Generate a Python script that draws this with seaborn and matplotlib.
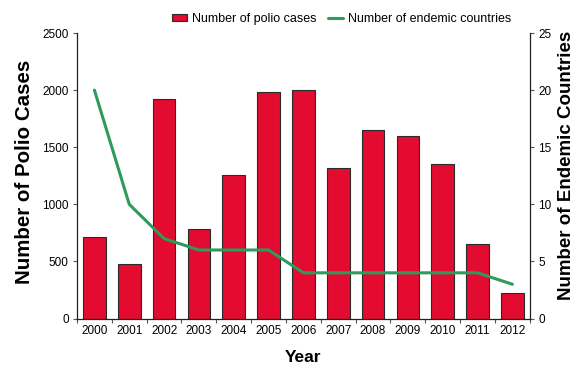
import numpy as np
import pandas as pd
import matplotlib
matplotlib.use("Agg")
import matplotlib.pyplot as plt
from matplotlib.ticker import FixedLocator
import seaborn as sns

years = ["2000", "2001", "2002", "2003", "2004", "2005", "2006",
         "2007", "2008", "2009", "2010", "2011", "2012"]
polio_cases = [715, 480, 1920, 780, 1255, 1980, 2000,
               1315, 1650, 1600, 1350, 650, 220]
endemic_countries = [20, 10, 7, 6, 6, 6, 4, 4, 4, 4, 4, 4, 3]

sns.set_theme(style="white")
plt.rcParams["font.family"] = ["Liberation Sans", "DejaVu Sans"]

bar_color = "#E30B30"
line_color = "#2E9A5C"
text_color = "#000000"

fig = plt.figure(figsize=(5.79, 3.71), dpi=100)
ax = fig.add_axes([0.133, 0.1415, 0.782, 0.7695])

df = pd.DataFrame({"Year": years, "Cases": polio_cases,
                   "Countries": endemic_countries})

sns.barplot(data=df, x="Year", y="Cases", ax=ax, color=bar_color,
            saturation=1, width=0.65, edgecolor="#2a2a2a", linewidth=0.8,
            label="Number of polio cases")
ax.set_xlim(-0.5, len(years) - 0.5)
ax.set_ylim(0, 2500)
ax.set_yticks([0, 500, 1000, 1500, 2000, 2500])

ax2 = ax.twinx()
sns.lineplot(x=np.arange(len(years)), y=df["Countries"], ax=ax2,
             color=line_color, linewidth=2.2,
             label="Number of endemic countries")
ax2.set_ylim(0, 25)
ax2.set_yticks([0, 5, 10, 15, 20, 25])
ax2.set_xlim(-0.5, len(years) - 0.5)

for a in (ax, ax2):
    a.spines["top"].set_visible(False)
    for s in ("left", "right", "bottom"):
        a.spines[s].set_color("#222222")
        a.spines[s].set_linewidth(0.9)

ax.spines["right"].set_visible(False)
ax2.spines["left"].set_visible(False)
ax2.spines["bottom"].set_visible(False)

# category boundaries carry the x tick marks
ax.xaxis.set_minor_locator(FixedLocator(np.arange(-0.5, len(years), 1.0)))
ax.tick_params(axis="x", which="major", length=0, pad=5, labelsize=8.5,
               labelcolor=text_color)
ax.tick_params(axis="x", which="minor", bottom=True, length=3, width=0.8,
               color="#555555")
ax.tick_params(axis="y", left=True, length=3, width=0.8, labelsize=8.5,
               pad=3, color="#555555", labelcolor=text_color)
ax2.tick_params(axis="y", right=True, length=3, width=0.8, labelsize=8.5,
                pad=3, color="#555555", labelcolor=text_color)

ax.set_xlabel("Year", fontsize=12.5, fontweight="bold", labelpad=9,
              color=text_color)
ax.set_ylabel("Number of Polio Cases", fontsize=14.8, fontweight="bold",
              labelpad=6, color=text_color)
ax2.set_ylabel("Number of Endemic Countries", fontsize=13.5,
               fontweight="bold", labelpad=5, color=text_color)
ax.yaxis.label.set_y(0.513)
ax2.yaxis.label.set_y(0.538)

h1, l1 = ax.get_legend_handles_labels()
h2, l2 = ax2.get_legend_handles_labels()
for a in (ax, ax2):
    if a.get_legend() is not None:
        a.get_legend().remove()
fig.legend(h1 + h2, l1 + l2, loc="center", bbox_to_anchor=(0.59, 0.948),
           ncol=2, frameon=False, fontsize=9, handlelength=1.2,
           handleheight=0.5, handletextpad=0.4, columnspacing=0.9,
           labelcolor=text_color)

fig.savefig("out.png", dpi=100)
